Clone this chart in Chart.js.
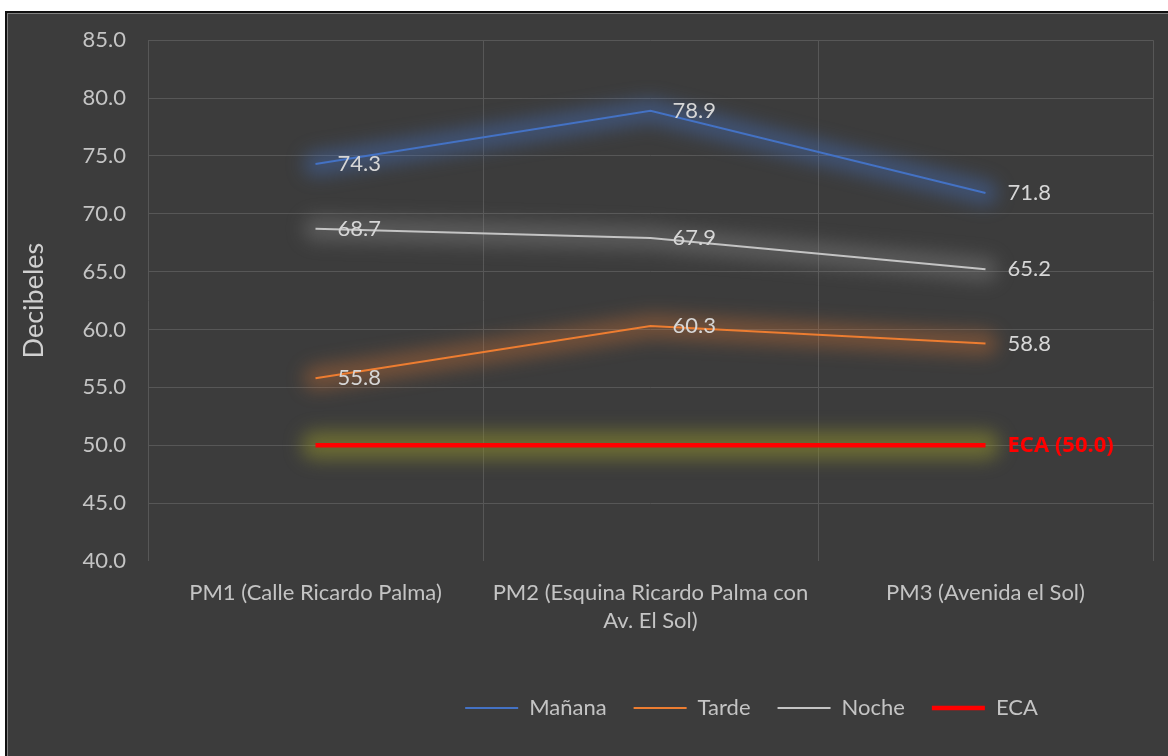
<!DOCTYPE html>
<html>
<head>
<meta charset="utf-8">
<script src="https://cdn.jsdelivr.net/npm/chart.js@4"></script>
<style>
  html, body { margin: 0; padding: 0; background: #fff; width: 1168px; height: 756px; overflow: hidden; }
  #frame {
    position: absolute; left: 5px; top: 11px; width: 1600px; height: 800px;
    border: 2px solid #111; background: #3c3c3c; box-shadow: inset 0 0 0 1px #808080;
  }
  #wrap { position: absolute; left: 8px; top: 5px; width: 1487px; height: 770px; }
</style>
</head>
<body>
<div id="frame"></div>
<div id="wrap"><canvas id="chart"></canvas></div>
<script>
// values
const categories = [
  "PM1 (Calle Ricardo Palma)",
  ["PM2 (Esquina Ricardo Palma con", "Av. El Sol)"],
  "PM3 (Avenida el Sol)"
];
const manana = [74.3, 78.9, 71.8];
const tarde = [55.8, 60.3, 58.8];
const noche = [68.7, 67.9, 65.2];
const eca = [50.0, 50.0, 50.0];
const yMin = 40, yMax = 85, yStep = 5;

Chart.defaults.font.family = "Lato, 'Open Sans', sans-serif";

// soft glow under each line (Excel "glow" effect)
const glowPlugin = {
  id: "glow",
  beforeDatasetDraw(chart, args) {
    const ds = chart.data.datasets[args.index];
    const pts = args.meta.data;
    if (!ds.glowColor || !pts.length) return;
    const ctx = chart.ctx;
    ctx.save();
    ctx.filter = "blur(" + ds.glowBlur + "px)";
    ctx.strokeStyle = ds.glowColor;
    ctx.lineWidth = ds.glowWidth;
    ctx.lineCap = "round";
    ctx.lineJoin = "round";
    ctx.beginPath();
    pts.forEach((p, i) => (i ? ctx.lineTo(p.x, p.y) : ctx.moveTo(p.x, p.y)));
    ctx.stroke();
    ctx.restore();
  }
};

// value labels to the right of each point
const labelPlugin = {
  id: "valueLabels",
  afterDatasetsDraw(chart) {
    const ctx = chart.ctx;
    ctx.save();
    ctx.textAlign = "left";
    ctx.textBaseline = "middle";
    chart.data.datasets.forEach((ds, di) => {
      const meta = chart.getDatasetMeta(di);
      meta.data.forEach((p, i) => {
        let text = ds.data[i].toFixed(1);
        if (ds.label === "ECA") {
          if (i !== ds.data.length - 1) return;
          text = "ECA (" + text + ")";
          ctx.font = "bold 22px 'Noto Sans', sans-serif";
          ctx.fillStyle = "#ff0000";
        } else {
          ctx.font = "22px Lato, sans-serif";
          ctx.fillStyle = "#d6d6d6";
        }
        ctx.fillText(text, p.x + 22, p.y);
      });
    });
    ctx.restore();
  }
};

new Chart(document.getElementById("chart"), {
  type: "line",
  data: {
    labels: categories,
    datasets: [
      { label: "Mañana", data: manana, borderColor: "#4472c4", backgroundColor: "#4472c4", borderWidth: 2,
        glowColor: "rgba(68,114,196,0.42)", glowWidth: 24, glowBlur: 9 },
      { label: "Tarde", data: tarde, borderColor: "#ed7d31", backgroundColor: "#ed7d31", borderWidth: 2,
        glowColor: "rgba(237,125,49,0.32)", glowWidth: 24, glowBlur: 9 },
      { label: "Noche", data: noche, borderColor: "#c4c4c4", backgroundColor: "#a5a5a5", borderWidth: 2,
        glowColor: "rgba(150,150,150,0.35)", glowWidth: 24, glowBlur: 9 },
      { label: "ECA", data: eca, borderColor: "#ff0000", backgroundColor: "#ff0000", borderWidth: 4.5,
        glowColor: "rgba(140,140,45,0.6)", glowWidth: 28, glowBlur: 9 }
    ]
  },
  options: {
    responsive: true,
    maintainAspectRatio: false,
    animation: false,
    elements: { point: { radius: 0, hoverRadius: 0 }, line: { tension: 0 } },
    layout: { padding: { top: 16, bottom: 46, left: 0, right: 0 } },
    plugins: {
      tooltip: { enabled: false },
      legend: {
        position: "bottom",
        labels: {
          color: "#c4c4c4",
          font: { size: 22 },
          usePointStyle: true,
          pointStyle: "line",
          pointStyleWidth: 53,
          boxWidth: 53,
          padding: 27
        }
      }
    },
    scales: {
      x: {
        offset: true,
        grid: { offset: true, color: "#575757", drawTicks: false },
        border: { display: false },
        ticks: { color: "#c4c4c4", font: { size: 22, lineHeight: 1.27 }, padding: 18, maxRotation: 0, autoSkip: false },
        afterFit(s) { s.height = 109; }
      },
      y: {
        min: yMin,
        max: yMax,
        grid: {
          drawTicks: false,
          color: (c) => (c.tick && c.tick.value === yMin ? "rgba(0,0,0,0)" : "#575757")
        },
        border: { display: false },
        ticks: { stepSize: yStep, color: "#c4c4c4", font: { size: 22 }, padding: 22,
          callback: (v) => Number(v).toFixed(1) },
        title: { display: true, text: "Decibeles", color: "#d0d0d0", font: { size: 27 }, padding: { top: 10, bottom: 0 } },
        afterFit(s) { s.width = 140; }
      },
      yRight: {
        position: "right",
        display: true,
        grid: { display: false },
        border: { display: false },
        ticks: { display: false },
        afterFit(s) { s.width = 342; }
      }
    }
  },
  plugins: [glowPlugin, labelPlugin]
});
</script>
</body>
</html>
